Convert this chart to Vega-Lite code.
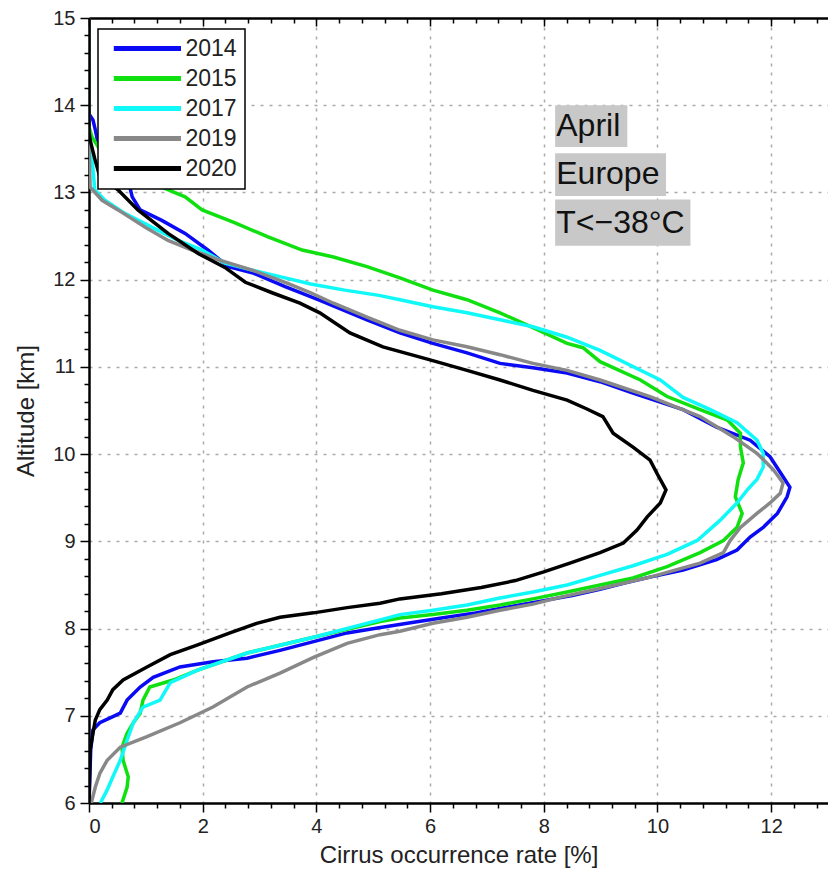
{
  "$schema": "https://vega.github.io/schema/vega-lite/v6.json",
  "width": 739,
  "height": 785,
  "autosize": {"type": "none"},
  "padding": {"left": 89, "top": 18, "right": 0, "bottom": 70},
  "background": "white",
  "config": {
    "view": {"stroke": null},
    "font": "Liberation Sans",
    "axis": {
      "labelFont": "Liberation Sans",
      "labelFontSize": 20,
      "labelColor": "#222",
      "titleFont": "Liberation Sans",
      "titleFontSize": 24,
      "titleFontWeight": "normal",
      "titleColor": "#222",
      "domainColor": "black",
      "domainWidth": 2.5,
      "tickColor": "black",
      "tickWidth": 1.5,
      "gridColor": "#aaa",
      "gridDash": [3, 6],
      "gridWidth": 1.5,
      "labelOverlap": false
    },
    "legend": {
      "orient": "none",
      "legendX": 9,
      "legendY": 11,
      "strokeColor": "black",
      "strokeWidth": 1.5,
      "fillColor": "white",
      "padding": 8,
      "symbolType": "M-7.4,0H1",
      "symbolSize": 256,
      "symbolStrokeWidth": 5,
      "symbolOffset": 55.5,
      "labelFontSize": 23,
      "labelFont": "Liberation Sans",
      "labelColor": "#222",
      "labelOffset": 1,
      "rowPadding": 6,
      "title": null
    }
  },
  "datasets": {
    "curves": [
      {"year":"2014","alt":15,"rate":0},{"year":"2014","alt":13.9,"rate":0},{"year":"2014","alt":13.83,"rate":0.07},{"year":"2014","alt":13.72,"rate":0.11},{"year":"2014","alt":13.56,"rate":0.16},{"year":"2014","alt":13.35,"rate":0.4},{"year":"2014","alt":13.14,"rate":0.69},{"year":"2014","alt":12.95,"rate":0.76},{"year":"2014","alt":12.8,"rate":0.9},{"year":"2014","alt":12.68,"rate":1.28},{"year":"2014","alt":12.53,"rate":1.69},{"year":"2014","alt":12.34,"rate":2.09},{"year":"2014","alt":12.15,"rate":2.45},{"year":"2014","alt":12.08,"rate":2.87},{"year":"2014","alt":11.92,"rate":3.45},{"year":"2014","alt":11.77,"rate":4.03},{"year":"2014","alt":11.54,"rate":4.89},{"year":"2014","alt":11.39,"rate":5.47},{"year":"2014","alt":11.27,"rate":6.05},{"year":"2014","alt":11.16,"rate":6.65},{"year":"2014","alt":11.04,"rate":7.23},{"year":"2014","alt":10.99,"rate":7.81},{"year":"2014","alt":10.93,"rate":8.41},{"year":"2014","alt":10.83,"rate":8.99},{"year":"2014","alt":10.7,"rate":9.57},{"year":"2014","alt":10.51,"rate":10.45},{"year":"2014","alt":10.31,"rate":11.04},{"year":"2014","alt":10.16,"rate":11.63},{"year":"2014","alt":9.97,"rate":11.98},{"year":"2014","alt":9.74,"rate":12.21},{"year":"2014","alt":9.62,"rate":12.33},{"year":"2014","alt":9.51,"rate":12.28},{"year":"2014","alt":9.32,"rate":12.11},{"year":"2014","alt":9.16,"rate":11.86},{"year":"2014","alt":9.05,"rate":11.63},{"year":"2014","alt":8.9,"rate":11.4},{"year":"2014","alt":8.79,"rate":11.04},{"year":"2014","alt":8.67,"rate":10.45},{"year":"2014","alt":8.59,"rate":9.87},{"year":"2014","alt":8.52,"rate":9.4},{"year":"2014","alt":8.45,"rate":8.99},{"year":"2014","alt":8.38,"rate":8.5},{"year":"2014","alt":8.32,"rate":8.0},{"year":"2014","alt":8.25,"rate":7.4},{"year":"2014","alt":8.18,"rate":6.8},{"year":"2014","alt":8.12,"rate":6.2},{"year":"2014","alt":8.06,"rate":5.6},{"year":"2014","alt":8.01,"rate":5.1},{"year":"2014","alt":7.95,"rate":4.54},{"year":"2014","alt":7.85,"rate":3.95},{"year":"2014","alt":7.75,"rate":3.36},{"year":"2014","alt":7.66,"rate":2.78},{"year":"2014","alt":7.62,"rate":2.18},{"year":"2014","alt":7.56,"rate":1.6},{"year":"2014","alt":7.44,"rate":1.13},{"year":"2014","alt":7.33,"rate":0.9},{"year":"2014","alt":7.18,"rate":0.67},{"year":"2014","alt":7.03,"rate":0.55},{"year":"2014","alt":6.99,"rate":0.42},{"year":"2014","alt":6.92,"rate":0.19},{"year":"2014","alt":6.84,"rate":0.07},{"year":"2014","alt":6.61,"rate":0.03},{"year":"2014","alt":6.4,"rate":0.02},{"year":"2014","alt":6,"rate":0},
      {"year":"2015","alt":15,"rate":0},{"year":"2015","alt":13.75,"rate":0},{"year":"2015","alt":13.64,"rate":0.05},{"year":"2015","alt":13.49,"rate":0.19},{"year":"2015","alt":13.3,"rate":0.5},{"year":"2015","alt":13.15,"rate":0.9},{"year":"2015","alt":13.06,"rate":1.28},{"year":"2015","alt":12.95,"rate":1.69},{"year":"2015","alt":12.8,"rate":1.99},{"year":"2015","alt":12.65,"rate":2.57},{"year":"2015","alt":12.49,"rate":3.15},{"year":"2015","alt":12.34,"rate":3.75},{"year":"2015","alt":12.26,"rate":4.3},{"year":"2015","alt":12.15,"rate":4.89},{"year":"2015","alt":12.02,"rate":5.47},{"year":"2015","alt":11.88,"rate":6.05},{"year":"2015","alt":11.77,"rate":6.65},{"year":"2015","alt":11.62,"rate":7.23},{"year":"2015","alt":11.45,"rate":7.81},{"year":"2015","alt":11.27,"rate":8.41},{"year":"2015","alt":11.22,"rate":8.69},{"year":"2015","alt":11.06,"rate":8.99},{"year":"2015","alt":10.85,"rate":9.7},{"year":"2015","alt":10.66,"rate":10.17},{"year":"2015","alt":10.51,"rate":10.75},{"year":"2015","alt":10.39,"rate":11.23},{"year":"2015","alt":10.24,"rate":11.46},{"year":"2015","alt":10.08,"rate":11.46},{"year":"2015","alt":9.9,"rate":11.51},{"year":"2015","alt":9.71,"rate":11.42},{"year":"2015","alt":9.51,"rate":11.37},{"year":"2015","alt":9.32,"rate":11.49},{"year":"2015","alt":9.16,"rate":11.4},{"year":"2015","alt":9.01,"rate":11.16},{"year":"2015","alt":8.87,"rate":10.75},{"year":"2015","alt":8.71,"rate":10.17},{"year":"2015","alt":8.58,"rate":9.57},{"year":"2015","alt":8.5,"rate":8.99},{"year":"2015","alt":8.42,"rate":8.41},{"year":"2015","alt":8.34,"rate":7.81},{"year":"2015","alt":8.27,"rate":7.23},{"year":"2015","alt":8.21,"rate":6.65},{"year":"2015","alt":8.16,"rate":6.05},{"year":"2015","alt":8.12,"rate":5.47},{"year":"2015","alt":8.08,"rate":5.12},{"year":"2015","alt":7.9,"rate":3.95},{"year":"2015","alt":7.72,"rate":2.78},{"year":"2015","alt":7.52,"rate":1.9},{"year":"2015","alt":7.41,"rate":1.48},{"year":"2015","alt":7.33,"rate":1.07},{"year":"2015","alt":7.18,"rate":0.95},{"year":"2015","alt":7.03,"rate":0.9},{"year":"2015","alt":6.92,"rate":0.78},{"year":"2015","alt":6.8,"rate":0.67},{"year":"2015","alt":6.64,"rate":0.58},{"year":"2015","alt":6.49,"rate":0.6},{"year":"2015","alt":6.3,"rate":0.69},{"year":"2015","alt":6.18,"rate":0.67},{"year":"2015","alt":6,"rate":0.58},
      {"year":"2017","alt":15,"rate":0},{"year":"2017","alt":13.6,"rate":0},{"year":"2017","alt":13.41,"rate":0.05},{"year":"2017","alt":13.2,"rate":0.08},{"year":"2017","alt":13.03,"rate":0.1},{"year":"2017","alt":12.91,"rate":0.28},{"year":"2017","alt":12.76,"rate":0.63},{"year":"2017","alt":12.6,"rate":1.11},{"year":"2017","alt":12.45,"rate":1.57},{"year":"2017","alt":12.34,"rate":1.99},{"year":"2017","alt":12.19,"rate":2.39},{"year":"2017","alt":12.11,"rate":2.87},{"year":"2017","alt":12.02,"rate":3.45},{"year":"2017","alt":11.95,"rate":3.9},{"year":"2017","alt":11.88,"rate":4.5},{"year":"2017","alt":11.82,"rate":5.1},{"year":"2017","alt":11.77,"rate":5.47},{"year":"2017","alt":11.69,"rate":6.05},{"year":"2017","alt":11.62,"rate":6.65},{"year":"2017","alt":11.54,"rate":7.23},{"year":"2017","alt":11.46,"rate":7.81},{"year":"2017","alt":11.34,"rate":8.41},{"year":"2017","alt":11.19,"rate":8.99},{"year":"2017","alt":10.85,"rate":10.05},{"year":"2017","alt":10.65,"rate":10.45},{"year":"2017","alt":10.51,"rate":10.93},{"year":"2017","alt":10.36,"rate":11.4},{"year":"2017","alt":10.16,"rate":11.75},{"year":"2017","alt":10.01,"rate":11.86},{"year":"2017","alt":9.85,"rate":11.86},{"year":"2017","alt":9.71,"rate":11.75},{"year":"2017","alt":9.59,"rate":11.58},{"year":"2017","alt":9.44,"rate":11.4},{"year":"2017","alt":9.24,"rate":11.1},{"year":"2017","alt":9.01,"rate":10.7},{"year":"2017","alt":8.85,"rate":10.17},{"year":"2017","alt":8.72,"rate":9.57},{"year":"2017","alt":8.61,"rate":8.99},{"year":"2017","alt":8.5,"rate":8.41},{"year":"2017","alt":8.42,"rate":7.81},{"year":"2017","alt":8.35,"rate":7.23},{"year":"2017","alt":8.27,"rate":6.65},{"year":"2017","alt":8.21,"rate":6.05},{"year":"2017","alt":8.16,"rate":5.47},{"year":"2017","alt":8.1,"rate":5.12},{"year":"2017","alt":7.9,"rate":3.95},{"year":"2017","alt":7.72,"rate":2.78},{"year":"2017","alt":7.52,"rate":1.9},{"year":"2017","alt":7.38,"rate":1.43},{"year":"2017","alt":7.18,"rate":1.25},{"year":"2017","alt":7.1,"rate":0.95},{"year":"2017","alt":6.92,"rate":0.78},{"year":"2017","alt":6.72,"rate":0.67},{"year":"2017","alt":6.49,"rate":0.55},{"year":"2017","alt":6.3,"rate":0.42},{"year":"2017","alt":6.15,"rate":0.32},{"year":"2017","alt":6,"rate":0.2},
      {"year":"2019","alt":15,"rate":0},{"year":"2019","alt":13.5,"rate":0},{"year":"2019","alt":13.3,"rate":0.01},{"year":"2019","alt":13.06,"rate":0.02},{"year":"2019","alt":12.91,"rate":0.23},{"year":"2019","alt":12.8,"rate":0.51},{"year":"2019","alt":12.6,"rate":0.99},{"year":"2019","alt":12.45,"rate":1.39},{"year":"2019","alt":12.34,"rate":1.81},{"year":"2019","alt":12.23,"rate":2.27},{"year":"2019","alt":12.11,"rate":2.87},{"year":"2019","alt":11.97,"rate":3.45},{"year":"2019","alt":11.85,"rate":3.9},{"year":"2019","alt":11.73,"rate":4.3},{"year":"2019","alt":11.57,"rate":4.89},{"year":"2019","alt":11.42,"rate":5.47},{"year":"2019","alt":11.31,"rate":6.05},{"year":"2019","alt":11.23,"rate":6.65},{"year":"2019","alt":11.14,"rate":7.23},{"year":"2019","alt":11.04,"rate":7.81},{"year":"2019","alt":10.96,"rate":8.41},{"year":"2019","alt":10.85,"rate":8.99},{"year":"2019","alt":10.66,"rate":9.87},{"year":"2019","alt":10.43,"rate":10.75},{"year":"2019","alt":10.2,"rate":11.33},{"year":"2019","alt":10.01,"rate":11.75},{"year":"2019","alt":9.82,"rate":12.04},{"year":"2019","alt":9.67,"rate":12.21},{"year":"2019","alt":9.55,"rate":12.16},{"year":"2019","alt":9.44,"rate":11.98},{"year":"2019","alt":9.32,"rate":11.75},{"year":"2019","alt":9.16,"rate":11.46},{"year":"2019","alt":9.01,"rate":11.28},{"year":"2019","alt":8.87,"rate":11.16},{"year":"2019","alt":8.75,"rate":10.75},{"year":"2019","alt":8.59,"rate":9.87},{"year":"2019","alt":8.46,"rate":8.99},{"year":"2019","alt":8.36,"rate":8.3},{"year":"2019","alt":8.28,"rate":7.81},{"year":"2019","alt":8.21,"rate":7.23},{"year":"2019","alt":8.13,"rate":6.65},{"year":"2019","alt":8.06,"rate":6.05},{"year":"2019","alt":7.97,"rate":5.47},{"year":"2019","alt":7.93,"rate":5.12},{"year":"2019","alt":7.83,"rate":4.54},{"year":"2019","alt":7.67,"rate":3.95},{"year":"2019","alt":7.49,"rate":3.36},{"year":"2019","alt":7.33,"rate":2.78},{"year":"2019","alt":7.1,"rate":2.18},{"year":"2019","alt":6.92,"rate":1.6},{"year":"2019","alt":6.76,"rate":1.02},{"year":"2019","alt":6.64,"rate":0.55},{"year":"2019","alt":6.49,"rate":0.32},{"year":"2019","alt":6.34,"rate":0.19},{"year":"2019","alt":6.18,"rate":0.11},{"year":"2019","alt":6,"rate":0.04},
      {"year":"2020","alt":15,"rate":0},{"year":"2020","alt":13.7,"rate":0},{"year":"2020","alt":13.6,"rate":0.02},{"year":"2020","alt":13.39,"rate":0.1},{"year":"2020","alt":13.18,"rate":0.19},{"year":"2020","alt":13.03,"rate":0.51},{"year":"2020","alt":12.8,"rate":0.86},{"year":"2020","alt":12.53,"rate":1.39},{"year":"2020","alt":12.3,"rate":1.92},{"year":"2020","alt":12.14,"rate":2.39},{"year":"2020","alt":11.97,"rate":2.75},{"year":"2020","alt":11.85,"rate":3.22},{"year":"2020","alt":11.73,"rate":3.71},{"year":"2020","alt":11.62,"rate":4.06},{"year":"2020","alt":11.39,"rate":4.59},{"year":"2020","alt":11.23,"rate":5.17},{"year":"2020","alt":11.08,"rate":6.0},{"year":"2020","alt":10.96,"rate":6.65},{"year":"2020","alt":10.85,"rate":7.23},{"year":"2020","alt":10.73,"rate":7.81},{"year":"2020","alt":10.62,"rate":8.41},{"year":"2020","alt":10.52,"rate":8.75},{"year":"2020","alt":10.43,"rate":9.04},{"year":"2020","alt":10.24,"rate":9.22},{"year":"2020","alt":10.08,"rate":9.57},{"year":"2020","alt":9.93,"rate":9.87},{"year":"2020","alt":9.78,"rate":9.99},{"year":"2020","alt":9.59,"rate":10.15},{"year":"2020","alt":9.44,"rate":10.05},{"year":"2020","alt":9.28,"rate":9.82},{"year":"2020","alt":9.13,"rate":9.64},{"year":"2020","alt":8.98,"rate":9.4},{"year":"2020","alt":8.87,"rate":8.99},{"year":"2020","alt":8.75,"rate":8.46},{"year":"2020","alt":8.65,"rate":8.0},{"year":"2020","alt":8.55,"rate":7.5},{"year":"2020","alt":8.47,"rate":6.9},{"year":"2020","alt":8.4,"rate":6.2},{"year":"2020","alt":8.34,"rate":5.47},{"year":"2020","alt":8.29,"rate":5.12},{"year":"2020","alt":8.24,"rate":4.54},{"year":"2020","alt":8.18,"rate":3.95},{"year":"2020","alt":8.13,"rate":3.36},{"year":"2020","alt":8.06,"rate":2.95},{"year":"2020","alt":7.95,"rate":2.48},{"year":"2020","alt":7.81,"rate":1.9},{"year":"2020","alt":7.7,"rate":1.43},{"year":"2020","alt":7.56,"rate":1.02},{"year":"2020","alt":7.41,"rate":0.6},{"year":"2020","alt":7.3,"rate":0.42},{"year":"2020","alt":7.18,"rate":0.32},{"year":"2020","alt":7.07,"rate":0.19},{"year":"2020","alt":6.95,"rate":0.11},{"year":"2020","alt":6.8,"rate":0.07},{"year":"2020","alt":6.61,"rate":0.02},{"year":"2020","alt":6,"rate":0}
    ],
    "dummy": [{"k": 1}]
  },
  "resolve": {"axis": {"x": "independent", "y": "independent"}},
  "layer": [
    {
      "data": {"name": "curves"},
      "mark": {"type": "line", "strokeWidth": 3.5, "clip": true},
      "encoding": {
        "x": {
          "field": "rate", "type": "quantitative",
          "scale": {"domain": [0, 13], "nice": false, "zero": false},
          "axis": {
            "orient": "bottom",
            "title": "Cirrus occurrence rate [%]",
            "titlePadding": 7,
            "values": [0,0.4,0.8,1.2,1.6,2,2.4,2.8,3.2,3.6,4,4.4,4.8,5.2,5.6,6,6.4,6.8,7.2,7.6,8,8.4,8.8,9.2,9.6,10,10.4,10.8,11.2,11.6,12,12.4,12.8],
            "labelExpr": "abs(datum.value/2 - round(datum.value/2)) < 0.001 ? format(datum.value, 'd') : ''",
            "tickSize": {"condition": {"test": "abs(datum.value/2 - round(datum.value/2)) < 0.001", "value": 9}, "value": 5},
            "gridOpacity": {"condition": {"test": "abs(datum.value/2 - round(datum.value/2)) < 0.001 && datum.value > 0", "value": 1}, "value": 0},
            "grid": true,
            "labelPadding": 4
          }
        },
        "y": {
          "field": "alt", "type": "quantitative",
          "scale": {"domain": [6, 15], "nice": false, "zero": false},
          "axis": {
            "orient": "left",
            "title": "Altitude [km]",
            "titlePadding": 14,
            "values": [6,6.2,6.4,6.6,6.8,7,7.2,7.4,7.6,7.8,8,8.2,8.4,8.6,8.8,9,9.2,9.4,9.6,9.8,10,10.2,10.4,10.6,10.8,11,11.2,11.4,11.6,11.8,12,12.2,12.4,12.6,12.8,13,13.2,13.4,13.6,13.8,14,14.2,14.4,14.6,14.8,15],
            "labelExpr": "abs(datum.value - round(datum.value)) < 0.001 ? format(datum.value, 'd') : ''",
            "tickSize": {"condition": {"test": "abs(datum.value - round(datum.value)) < 0.001", "value": 9}, "value": 5},
            "gridOpacity": {"condition": {"test": "abs(datum.value - round(datum.value)) < 0.001 && datum.value > 6.5 && datum.value < 14.5", "value": 1}, "value": 0},
            "grid": true,
            "labelPadding": 5
          }
        },
        "order": {"field": "alt", "type": "quantitative", "sort": "descending"},
        "color": {
          "field": "year", "type": "nominal",
          "scale": {"domain": ["2014","2015","2017","2019","2020"], "range": ["#0a0af5","#10e010","#10f8f8","#888888","#000000"]},
          "legend": {}
        }
      }
    },
    {
      "data": {"name": "dummy"},
      "mark": {"type": "rect", "color": "#c8c8c8"},
      "encoding": {
        "x": {"datum": 8.2, "type": "quantitative",
          "axis": {
            "orient": "top", "title": null, "grid": false, "labels": false, "domainWidth": 2.5,
            "values": [0,0.4,0.8,1.2,1.6,2,2.4,2.8,3.2,3.6,4,4.4,4.8,5.2,5.6,6,6.4,6.8,7.2,7.6,8,8.4,8.8,9.2,9.6,10,10.4,10.8,11.2,11.6,12,12.4,12.8],
            "tickSize": {"condition": {"test": "abs(datum.value/2 - round(datum.value/2)) < 0.001", "value": -8}, "value": -5}
          }
        },
        "x2": {"datum": 9.47},
        "y": {"datum": 14.0, "type": "quantitative", "axis": null},
        "y2": {"datum": 13.52}
      }
    },
    {
      "data": {"name": "dummy"},
      "mark": {"type": "rect", "color": "#c8c8c8"},
      "encoding": {
        "x": {"datum": 8.2, "type": "quantitative", "axis": null},
        "x2": {"datum": 10.15},
        "y": {"datum": 13.45, "type": "quantitative", "axis": null},
        "y2": {"datum": 12.96}
      }
    },
    {
      "data": {"name": "dummy"},
      "mark": {"type": "rect", "color": "#c8c8c8"},
      "encoding": {
        "x": {"datum": 8.2, "type": "quantitative", "axis": null},
        "x2": {"datum": 10.58},
        "y": {"datum": 12.92, "type": "quantitative", "axis": null},
        "y2": {"datum": 12.39}
      }
    },
    {
      "data": {"name": "dummy"},
      "mark": {"type": "text", "text": "April", "align": "left", "baseline": "alphabetic", "fontSize": 32, "font": "Liberation Sans", "color": "#111"},
      "encoding": {
        "x": {"datum": 8.22, "type": "quantitative", "axis": null},
        "y": {"datum": 13.645, "type": "quantitative", "axis": null}
      }
    },
    {
      "data": {"name": "dummy"},
      "mark": {"type": "text", "text": "Europe", "align": "left", "baseline": "alphabetic", "fontSize": 32, "font": "Liberation Sans", "color": "#111"},
      "encoding": {
        "x": {"datum": 8.22, "type": "quantitative", "axis": null},
        "y": {"datum": 13.095, "type": "quantitative", "axis": null}
      }
    },
    {
      "data": {"name": "dummy"},
      "mark": {"type": "text", "text": "T<−38°C", "align": "left", "baseline": "alphabetic", "fontSize": 32, "font": "Liberation Sans", "color": "#111"},
      "encoding": {
        "x": {"datum": 8.22, "type": "quantitative", "axis": null},
        "y": {"datum": 12.535, "type": "quantitative", "axis": null}
      }
    }
  ]
}
